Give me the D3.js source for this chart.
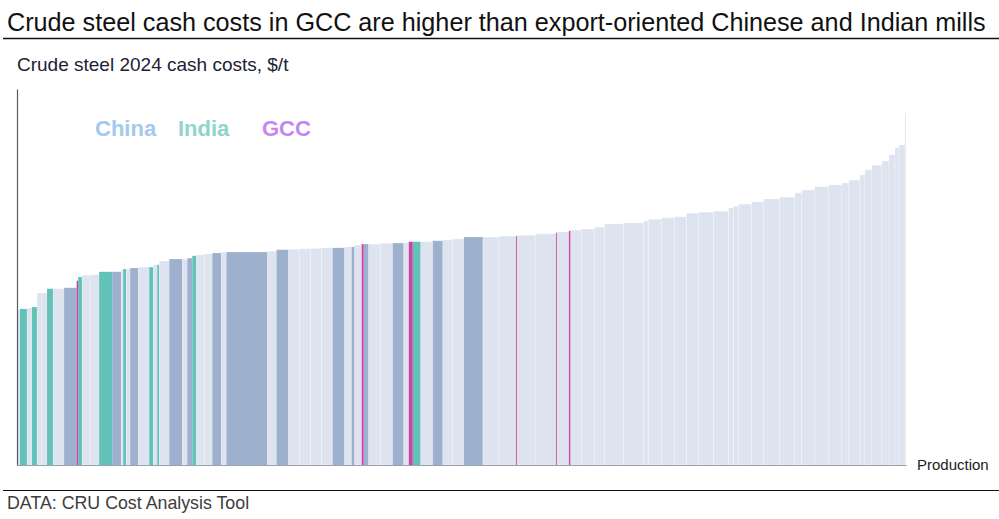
<!DOCTYPE html>
<html>
<head>
<meta charset="utf-8">
<script src="https://cdn.jsdelivr.net/npm/d3@7"></script>
<style>
  body { margin: 0; background: #fff; }
  svg { display: block; font-family: "Liberation Sans", Arial, sans-serif; }
</style>
</head>
<body>
<svg id="chart" width="999" height="519"></svg>
<script>
// mills sorted by cash cost: region code, production (Mt), cash cost ($/t)
// G = rest of world, C = China, I = India, M = GCC
var regions = ["G","I","G","I","G","G","I","G","C","M","I","G","G","I","C","G","I","G","C","G","I","G","I","G","C","G","C","I","G","G","C","G","C","G","C","G","G","G","G","C","G","C","G","M","C","G","G","C","G","M","I","G","C","G","G","C","G","G","M","G","G","M","G","M","G","G","G","G","G","G","G","G","G","G","G","G","G","G","G","G","G","G","G","G","G","G","G","G","G","G","G","G","G","G","G","G"];
var production = [6,14,10,10,10,10,12,22,25,3,8,16,18,26,18,4,6,8,16,22,8,8,4,20,26,10,10,8,16,16,18,10,82,18,24,22,22,22,22,24,14,6,14,4,10,24,24,22,10,8,16,24,20,20,22,38,32,34,1.8,38,40,1.8,24,3,22,26,20,38,40,10,26,26,24,24,30,30,10,10,26,24,32,30,14,26,28,26,14,22,10,14,20,14,12,8,12,2,4];
var cost = [330,332,334,336,366,366,375,375,377,392,400,404,405,411,411,415,417,417,419,421,421,426,426,434,438,438,440,445,447,449,451,453,453,455,458,459,460,461,462,462,464,464,468,470,470,470,472,472,473,475,475,475,477,479,481,485,485,487,487,489,492,494,496,498,500,502,506,513,515,519,523,526,528,536,538,540,547,551,555,560,566,570,579,585,592,596,600,606,617,628,638,647,660,675,681,749,798];

var legendLabels = ["China", "India", "GCC"];
var legendColors = ["#a5c9ec", "#8fd5ca", "#c487f2"];

var barColor = { G: "#dee4ef", C: "#9db0ce", I: "#62c2b8", M: "#cc44a3" };

var svg = d3.select("#chart");
var margin = { left: 17, right: 93, top: 89, bottom: 54 };
var W = 999, H = 519;

var mills = regions.map(function(r, i) { return { region: r, prod: production[i], cost: cost[i] }; });
var cum = 0;
mills.forEach(function(d) { d.x0 = cum; cum += d.prod; d.x1 = cum; });

var x = d3.scaleLinear().domain([0, cum]).range([margin.left, W - margin.right]);
var y = d3.scaleLinear().domain([0, 800]).range([H - margin.bottom, margin.top]);

// title
svg.append("text").attr("x", 7).attr("y", 31)
  .attr("font-size", 25.2).attr("fill", "#111")
  .text("Crude steel cash costs in GCC are higher than export-oriented Chinese and Indian mills");
svg.append("line").attr("x1", 3).attr("x2", W).attr("y1", 38.5).attr("y2", 38.5)
  .attr("stroke", "#111").attr("stroke-width", 1.3);

svg.append("text").attr("x", 17).attr("y", 71)
  .attr("font-size", 19).attr("fill", "#1b2233")
  .text("Crude steel 2024 cash costs, $/t");

// bars (GCC drawn last so neighbours don't muddy them)
var bars = svg.append("g");
var sorted = mills.filter(function(d) { return d.region !== "M"; })
  .concat(mills.filter(function(d) { return d.region === "M"; }));
bars.selectAll("rect").data(sorted).enter().append("rect")
  .attr("x", function(d) { return x(d.x0); })
  .attr("width", function(d) { return x(d.x1) - x(d.x0); })
  .attr("y", function(d) { return y(d.cost); })
  .attr("height", function(d) { return y(0) - y(d.cost); })
  .attr("fill", function(d) { return barColor[d.region]; })
  .attr("stroke", function(d) { return d.region === "G" ? "rgba(255,255,255,0.45)" : "none"; })
  .attr("stroke-width", 0.5);

// axes
var xAxis = d3.axisBottom(x).tickValues([]).tickSizeOuter(0);
svg.append("g").attr("transform", "translate(0," + y(0) + ")").call(xAxis)
  .select(".domain").attr("stroke", "#9aa1aa");
var yAxis = d3.axisLeft(y).tickValues([]).tickSizeOuter(0);
svg.append("g").attr("transform", "translate(" + margin.left + ",0)").call(yAxis)
  .select(".domain").attr("stroke", "#565d68").attr("stroke-width", 1.2);

svg.append("text").attr("x", 917).attr("y", 470)
  .attr("font-size", 15).attr("fill", "#222").text("Production");

// legend
var legendX = [95, 178, 262];
svg.append("g").selectAll("text").data(legendLabels).enter().append("text")
  .attr("x", function(d, i) { return legendX[i]; })
  .attr("y", 136)
  .attr("font-size", 22).attr("font-weight", "bold")
  .attr("fill", function(d, i) { return legendColors[i]; })
  .text(function(d) { return d; });

// source
svg.append("line").attr("x1", 3).attr("x2", W).attr("y1", 490.5).attr("y2", 490.5)
  .attr("stroke", "#111").attr("stroke-width", 1.2);
svg.append("text").attr("x", 7).attr("y", 509)
  .attr("font-size", 17.8).attr("fill", "#3d3d3d")
  .text("DATA: CRU Cost Analysis Tool");
</script>
</body>
</html>
